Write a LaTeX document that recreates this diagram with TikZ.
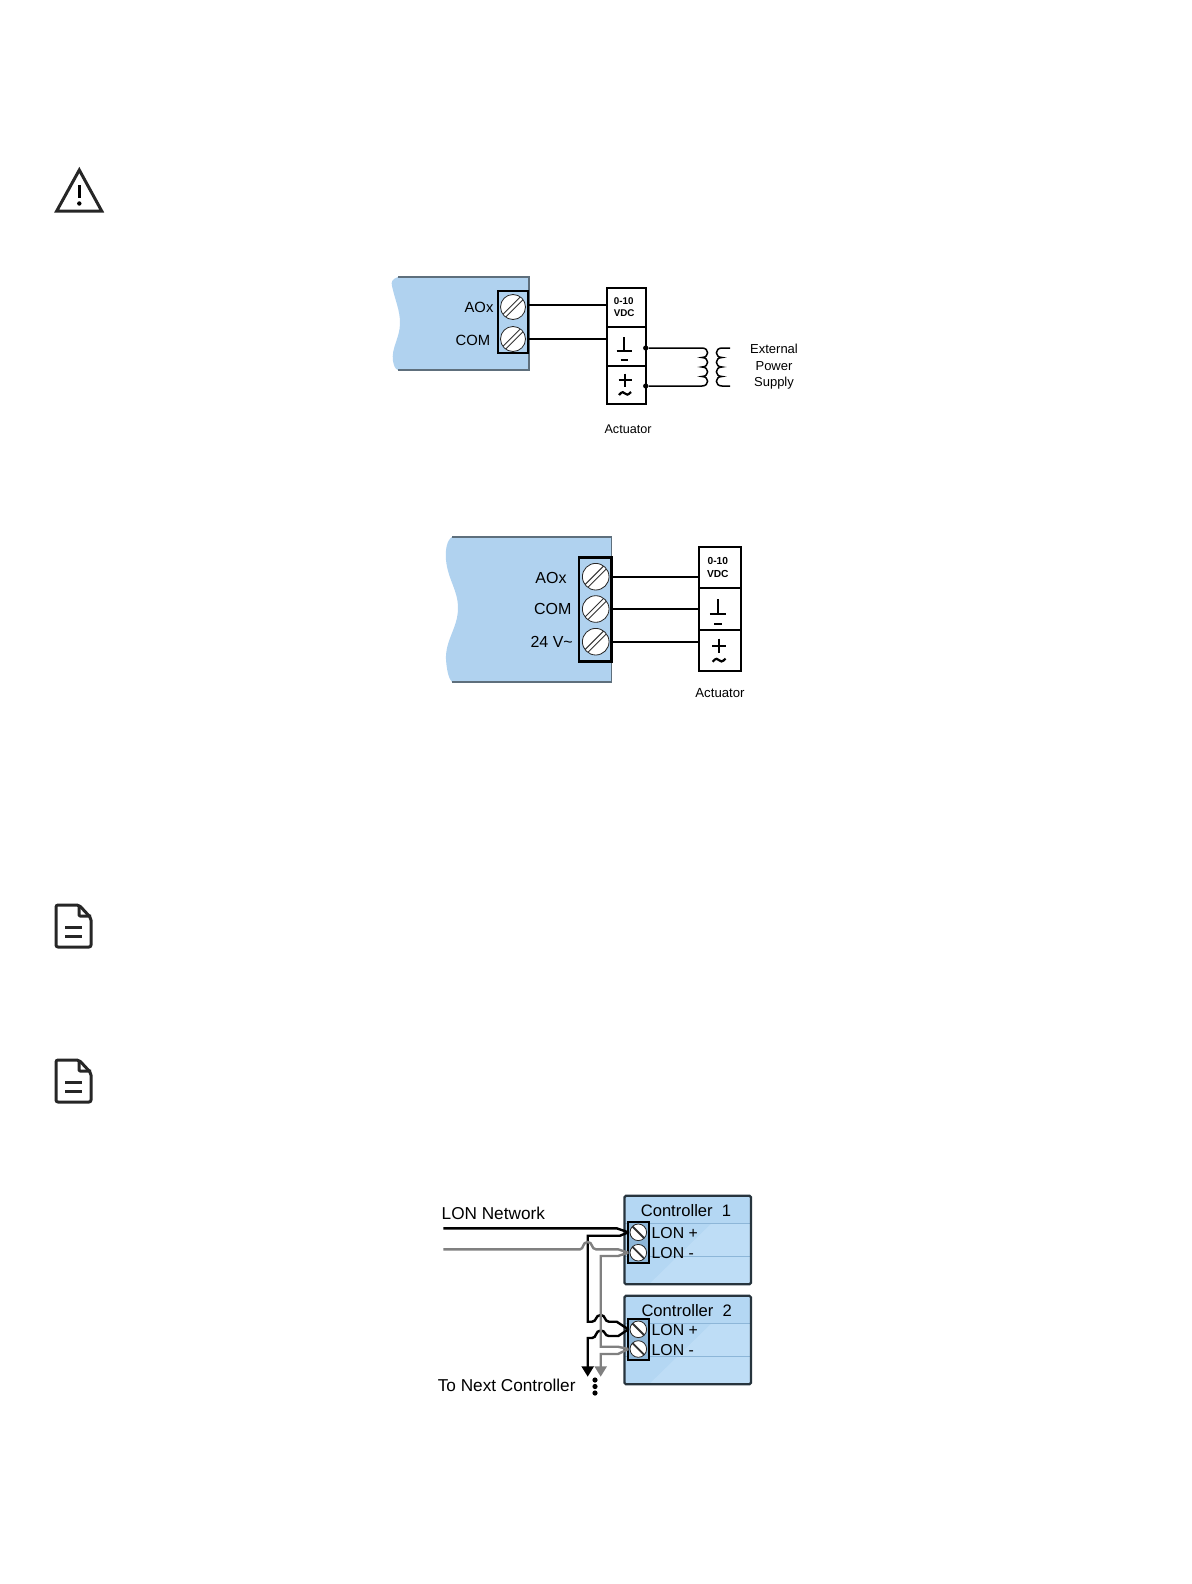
\documentclass[tikz,border=0pt]{standalone}
\usepackage{fontspec}
\setmainfont{Liberation Sans}
\usetikzlibrary{positioning, calc, arrows.meta}
\definecolor{cardblue}{HTML}{B0D2EF}
\definecolor{ctrlblue}{HTML}{B4D7F3}
\definecolor{ctrllight}{HTML}{BEDDF6}
\definecolor{ctrlband}{HTML}{8DB6D8}
\definecolor{cardedge}{HTML}{5E6F7C}
\definecolor{lonedge}{HTML}{27343D}
\definecolor{longray}{HTML}{808080}
\tikzset{
  cardfill/.style={fill=cardblue},
  cardline/.style={draw=cardedge, line width=0.6pt},
  tblock/.style={draw=black, line width=1.05pt, inner sep=0, outer sep=0},
  screw/.style={circle, draw=black!85, fill=white, line width=0.4pt, inner sep=0, minimum size=12.5pt, path picture={
    \draw[black!80, line width=0.45pt] ($(path picture bounding box.south west)+(1.2pt,2.6pt)$) -- ($(path picture bounding box.north east)+(-2.6pt,-1.2pt)$);
    \draw[black!80, line width=0.45pt] ($(path picture bounding box.south west)+(2.6pt,1.2pt)$) -- ($(path picture bounding box.north east)+(-1.2pt,-2.6pt)$);
  }},
  lonscrew/.style={circle, draw=black!85, fill=white, line width=0.4pt, inner sep=0, minimum size=8.3pt, path picture={
    \draw[black!80, line width=0.9pt] (path picture bounding box.north west) -- (path picture bounding box.south east);
  }},
  cell/.style={draw=black, line width=0.9pt, inner sep=0, outer sep=0, align=center, font=\bfseries\fontsize{4.9}{6}\selectfont},
  cellone/.style={cell, minimum width=19.3pt},
  celltwo/.style={cell, minimum width=20.8pt, line width=1pt, font=\bfseries\fontsize{5.1}{6.5}\selectfont},
  wire/.style={draw=black, line width=0.7pt},
  wirecoil/.style={draw=black, line width=0.75pt},
  wiretwo/.style={draw=black, line width=0.8pt},
  dotend/.style={circle, fill=black, inner sep=0, minimum size=2.6pt},
  smalltxt/.style={inner sep=0, font=\fontsize{6.5}{8.2}\selectfont, align=center},
  cardtxt/.style={inner sep=0, font=\fontsize{7.4}{9}\selectfont},
  cardtxtb/.style={inner sep=0, font=\fontsize{8}{9}\selectfont},
  lontxt/.style={inner sep=0, font=\fontsize{8.6}{10}\selectfont},
  ctrltxt/.style={inner sep=0, font=\fontsize{8.3}{10}\selectfont},
  pintxt/.style={inner sep=0, anchor=west, font=\fontsize{7.9}{10}\selectfont},
  controller/.style={draw=lonedge, fill=ctrlblue, line width=1.1pt, rounded corners=0.8pt, inner sep=0,
    minimum width=63.3pt, minimum height=44.3pt, path picture={
    \fill[ctrllight] ($(path picture bounding box.north east)+(-19.7pt,-13.8pt)$) -- ($(path picture bounding box.north east)+(0pt,-13.8pt)$)
      -- (path picture bounding box.south east) -- ($(path picture bounding box.south east)+(-51pt,0pt)$) -- cycle;
    \draw[ctrlband, line width=0.4pt] ($(path picture bounding box.north west)+(0pt,-13.8pt)$) -- ($(path picture bounding box.north east)+(0pt,-13.8pt)$);
    \draw[ctrlband, line width=0.4pt] ($(path picture bounding box.north west)+(0pt,-30.5pt)$) -- ($(path picture bounding box.north east)+(0pt,-30.5pt)$);
  }},
  lonblack/.style={draw=black, line width=1.2pt},
  longrey/.style={draw=longray, line width=1.2pt},
  blackdown/.style={lonblack, -{Triangle[length=5.2pt, width=6pt]}},
  greydown/.style={longrey, -{Triangle[length=5.2pt, width=6pt]}},
  icon/.style={draw=black!85, line width=1.5pt, line join=round},
  docicon/.style={draw=black!85, line width=1.5pt, rounded corners=1pt, line join=round},
  acsigns/.pic={
    \draw[line width=0.95pt] (0,-14) -- (0,0);
    \draw[line width=0.95pt] (-7.5,0) -- (7.5,0);
    \draw[line width=1.1pt] (-3.5,9) -- (3.5,9);
    \draw[line width=1.1pt] (-5.5,29) -- (7.5,29);
    \draw[line width=1.1pt] (1,22.5) -- (1,35.5);
    \draw[line width=1.1pt] (-5,44) .. controls (-2,40) and (0,41) .. (1,42.5) .. controls (2,44) and (4,44.5) .. (7,41);
  },
  docpic/.pic={
    \draw[docicon] (0,42) -- (0,0) -- (23,0) -- (35,13) -- (35,42) -- cycle;
    \draw[docicon, rounded corners=0.5pt] (23,0) -- (23,11) -- (35,11);
    \draw[icon] (9,22) -- (26,22);
    \draw[icon] (9,31) -- (26,31);
  }
}
\begin{document}
\begin{tikzpicture}[x=0.5pt, y=-0.5pt]
  \useasboundingbox (0,0) rectangle (1191,1584);
  % warning and note marks
  \draw[icon, line join=miter] (79.3,170) -- (101.7,211) -- (56.7,211) -- cycle;
  \draw[line width=1.5pt] (79.3,185) -- (79.3,198);
  \fill (79.3,203.5) circle (1.1pt);
  \pic (docone) at (56,905) {docpic};
  \pic (doctwo) at (56,1060) {docpic};

  % first card
  \fill[cardfill] (398,277) .. controls (392,279) and (391,282) .. (392,286) .. controls (395,300) and (400,310) .. (400,323)
    .. controls (400,338) and (391,348) .. (393,361) .. controls (394,366) and (395,369) .. (398,370) -- (529,370) -- (529,277) -- cycle;
  \draw[cardline] (398,277) -- (529,277) -- (529,370) -- (398,370);
  \node[tblock, fill=cardblue, minimum width=15.3pt, minimum height=30.8pt] (blockone) at (513,322) {};
  \node[screw] (aoxone) at (513,307) {};
  \node[screw] (comone) at (513,339) {};
  \node[cardtxt] (aoxlabelone) at (479,307) {AOx};
  \node[cardtxt] (comlabelone) at (473,340) {COM};
  \node[cellone, minimum height=19.4pt] (vdcone) at (626.3,307.3) {0-10\hspace*{2.6pt}\\VDC\hspace*{2.2pt}};
  \node[cellone, minimum height=19.5pt, below=0pt of vdcone] (gndone) {};
  \node[cellone, minimum height=19.2pt, below=0pt of gndone] (plusone) {};
  \pic (signsone) at (624,351) {acsigns};
  \draw[wire] ([yshift=1pt]aoxone -| blockone.east) -- ([yshift=1pt]aoxone -| vdcone.west);
  \draw[wire] (comone -| blockone.east) -- (comone -| gndone.west);
  \node[dotend] (dotgnd) at (645.7,348) {};
  \node[dotend] (dotplus) at (645.7,386) {};
  \coordinate (coiltop) at (702,348);
  \coordinate (coilbot) at (702,386);
  \coordinate (supplytop) at (730,348);
  \coordinate (supplybot) at (730,386);
  \draw[wirecoil] (dotgnd) -- (coiltop) .. controls +(7.5,0) and +(7.5,0) .. ++(0,9.5) .. controls +(7.5,0) and +(7.5,0) .. ++(0,9.5)
    .. controls +(7.5,0) and +(7.5,0) .. ++(0,9.5) .. controls +(7.5,0) and +(7.5,0) .. (coilbot) -- (dotplus);
  \draw[wirecoil] (supplytop) -- ++(-8,0) .. controls +(-7.5,0) and +(-7.5,0) .. ++(0,9.5) .. controls +(-7.5,0) and +(-7.5,0) .. ++(0,9.5)
    .. controls +(-7.5,0) and +(-7.5,0) .. ++(0,9.5) .. controls +(-7.5,0) and +(-7.5,0) .. ++(0,9.5) -- (supplybot);
  \node[smalltxt] (supplylabel) at (774,367) {External\\Power\\Supply};
  \node[smalltxt, font=\fontsize{6.3}{8}\selectfont] (actlabelone) at (628,429) {Actuator};

  % second card
  \fill[cardfill] (452,537) .. controls (447,540) and (445,550) .. (446,560) .. controls (448,580) and (458,590) .. (458,608)
    .. controls (458,628) and (445,640) .. (446,660) .. controls (447,672) and (449,679) .. (452,682) -- (611.7,682) -- (611.7,537) -- cycle;
  \draw[cardline] (452,537) -- (611.7,537) -- (611.7,682) -- (452,682);
  \node[tblock, fill=cardblue, line width=1.4pt, minimum width=16.3pt, minimum height=52.2pt] (blocktwo) at (595.3,609.5) {};
  \node[screw, minimum size=13.3pt] (aoxtwo) at (595.7,576.7) {};
  \node[screw, minimum size=13.3pt] (comtwo) at (595.7,609) {};
  \node[screw, minimum size=13.3pt] (pwrtwo) at (595.7,641.7) {};
  \node[cardtxtb] (aoxlabeltwo) at (551,577.7) {AOx};
  \node[cardtxtb] (comlabeltwo) at (552.7,609) {COM};
  \node[cardtxtb] (pwrlabeltwo) at (551.7,641.7) {24 V\char`\~};
  \node[celltwo, minimum height=20.5pt] (vdctwo) at (719.8,567.2) {0-10\hspace*{2pt}\\VDC\hspace*{2pt}};
  \node[celltwo, minimum height=21.2pt, below=0pt of vdctwo] (gndtwo) {};
  \node[celltwo, minimum height=20.5pt, below=0pt of gndtwo] (plustwo) {};
  \pic[scale=1.08] (signstwo) at (718,614.3) {acsigns};
  \draw[wiretwo] (aoxtwo -| blocktwo.east) -- (aoxtwo -| vdctwo.west);
  \draw[wiretwo] (comtwo -| blocktwo.east) -- (comtwo -| gndtwo.west);
  \draw[wiretwo] (pwrtwo -| blocktwo.east) -- (pwrtwo -| plustwo.west);
  \node[smalltxt, font=\fontsize{6.6}{8}\selectfont] (actlabeltwo) at (720,692.7) {Actuator};

  % LON network
  \node[controller] (ctrlone) at (687.7,1240) {};
  \node[controller] (ctrltwo) at (687.7,1340) {};
  \node[ctrltxt] (ctrlonelabel) at (686,1211) {Controller\ \ 1};
  \node[ctrltxt] (ctrltwolabel) at (686.7,1311) {Controller\ \ 2};
  \node[tblock, fill=ctrlband, minimum width=10.5pt, minimum height=20.8pt] (lonblockone) at (638.8,1242.5) {};
  \node[tblock, fill=ctrlband, minimum width=10.5pt, minimum height=20.5pt] (lonblocktwo) at (638.8,1339.5) {};
  \node[lonscrew] (lonponea) at (638.3,1232.3) {};
  \node[lonscrew] (lonmonea) at (638.3,1252.7) {};
  \node[lonscrew] (lonptwoa) at (638.3,1329.3) {};
  \node[lonscrew] (lonmtwoa) at (638.3,1349) {};
  \node[pintxt] (lonponelabel) at (651.3,1233.3) {LON +};
  \node[pintxt] (lonmonelabel) at (651.3,1253.3) {LON -};
  \node[pintxt] (lonptwolabel) at (651.3,1330) {LON +};
  \node[pintxt] (lonmtwolabel) at (651.3,1350) {LON -};
  \node[lontxt] (lonlabel) at (493.3,1213.3) {LON Network};
  \node[lontxt] (nextlabel) at (506.7,1385) {To Next Controller};
  \node[dotend] (nextdota) at (595,1380) {};
  \node[dotend] (nextdotb) at (595,1386.5) {};
  \node[dotend] (nextdotc) at (595,1393) {};
  \coordinate (netblack) at (443.3,1228.3);
  \coordinate (netgrey) at (443.3,1249.3);
  \coordinate (downblack) at (587.7,1376.7);
  \coordinate (downgrey) at (600.7,1376.7);
  \draw[lonblack] (netblack) -- (616.7,1228.3) -- (lonponea -| lonblockone.west);
  \draw[lonblack] (lonponea -| lonblockone.west) -- (620,1235.7) -- (587.7,1235.7) -- (587.7,1321.7) -- (592,1321.7)
    .. controls (597,1321.7) and (595,1315) .. (600.7,1315) .. controls (606,1315) and (604,1321.7) .. (609,1321.7)
    -- (616.7,1321.7) -- (lonptwoa -| lonblocktwo.west);
  \draw[blackdown] (lonptwoa -| lonblocktwo.west) -- (618.3,1336) -- (609,1336)
    .. controls (604,1336) and (606,1330.5) .. (600.7,1330.5) .. controls (595,1330.5) and (597,1338) .. (592,1338)
    -- (587.7,1338) -- (downblack);
  \draw[longrey] (netgrey) -- (580,1249.3) .. controls (584,1249.3) and (582,1242) .. (587.7,1242)
    .. controls (593,1242) and (591,1249.3) .. (596,1249.3) -- (618,1249.3) -- (lonmonea -| lonblockone.west);
  \draw[longrey] (lonmonea -| lonblockone.west) -- (618,1256) -- (600.7,1256) -- (600.7,1346.7) -- (618,1346.7) -- (lonmtwoa -| lonblocktwo.west);
  \draw[greydown] (lonmtwoa -| lonblocktwo.west) -- (618,1354) -- (600.7,1354) -- (downgrey);
\end{tikzpicture}
\end{document}
